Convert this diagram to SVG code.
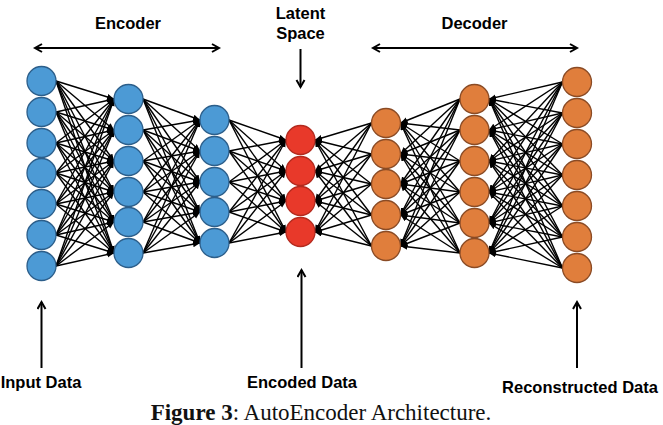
<svg xmlns="http://www.w3.org/2000/svg" width="663" height="425" viewBox="0 0 663 425">
<style>
.lbl{font-family:"Liberation Sans",Arial,sans-serif;font-weight:bold;font-size:16.5px;fill:#000;text-anchor:middle}
.cap{font-family:"Liberation Serif","Times New Roman",serif;font-size:23px;fill:#111;text-anchor:middle}
.blue{fill:#4c9ad5;stroke:#2c5e8a;stroke-width:1.3}
.red{fill:#e8392a;stroke:#b32a1e;stroke-width:1.3}
.orange{fill:#e07e3c;stroke:#8a4b25;stroke-width:1.3}
.c line{stroke:#000;stroke-width:1.4;marker-end:url(#ah)}
.big{stroke:#000;stroke-width:2;fill:none}
</style>
<defs>
<marker id="ah" markerUnits="userSpaceOnUse" markerWidth="8" markerHeight="7" refX="7" refY="3" orient="auto"><path d="M0,0 L7,3 L0,6 z" fill="#000"/></marker>
<marker id="ch" markerUnits="userSpaceOnUse" markerWidth="12" markerHeight="12" refX="8" refY="5" orient="auto-start-reverse"><path d="M1,1 L8,5 L1,9" fill="none" stroke="#000" stroke-width="2"/></marker>
</defs>
<rect width="663" height="425" fill="#fff"/>

<g id="connectors" class="c">
<!-- E1 -> E2 -->
<line x1="56" y1="81" x2="114" y2="99"/><line x1="56" y1="81" x2="114" y2="130"/><line x1="56" y1="81" x2="114" y2="161"/><line x1="56" y1="81" x2="114" y2="192"/><line x1="56" y1="81" x2="114" y2="222"/><line x1="56" y1="81" x2="114" y2="253"/>
<line x1="56" y1="112" x2="114" y2="99"/><line x1="56" y1="112" x2="114" y2="130"/><line x1="56" y1="112" x2="114" y2="161"/><line x1="56" y1="112" x2="114" y2="192"/><line x1="56" y1="112" x2="114" y2="222"/><line x1="56" y1="112" x2="114" y2="253"/>
<line x1="56" y1="143" x2="114" y2="99"/><line x1="56" y1="143" x2="114" y2="130"/><line x1="56" y1="143" x2="114" y2="161"/><line x1="56" y1="143" x2="114" y2="192"/><line x1="56" y1="143" x2="114" y2="222"/><line x1="56" y1="143" x2="114" y2="253"/>
<line x1="56" y1="173" x2="114" y2="99"/><line x1="56" y1="173" x2="114" y2="130"/><line x1="56" y1="173" x2="114" y2="161"/><line x1="56" y1="173" x2="114" y2="192"/><line x1="56" y1="173" x2="114" y2="222"/><line x1="56" y1="173" x2="114" y2="253"/>
<line x1="56" y1="204" x2="114" y2="99"/><line x1="56" y1="204" x2="114" y2="130"/><line x1="56" y1="204" x2="114" y2="161"/><line x1="56" y1="204" x2="114" y2="192"/><line x1="56" y1="204" x2="114" y2="222"/><line x1="56" y1="204" x2="114" y2="253"/>
<line x1="56" y1="235" x2="114" y2="99"/><line x1="56" y1="235" x2="114" y2="130"/><line x1="56" y1="235" x2="114" y2="161"/><line x1="56" y1="235" x2="114" y2="192"/><line x1="56" y1="235" x2="114" y2="222"/><line x1="56" y1="235" x2="114" y2="253"/>
<line x1="56" y1="266" x2="114" y2="99"/><line x1="56" y1="266" x2="114" y2="130"/><line x1="56" y1="266" x2="114" y2="161"/><line x1="56" y1="266" x2="114" y2="192"/><line x1="56" y1="266" x2="114" y2="222"/><line x1="56" y1="266" x2="114" y2="253"/>
<!-- E2 -> E3 -->
<line x1="143" y1="99" x2="200" y2="120"/><line x1="143" y1="99" x2="200" y2="151"/><line x1="143" y1="99" x2="200" y2="182"/><line x1="143" y1="99" x2="200" y2="212"/><line x1="143" y1="99" x2="200" y2="243"/>
<line x1="143" y1="130" x2="200" y2="120"/><line x1="143" y1="130" x2="200" y2="151"/><line x1="143" y1="130" x2="200" y2="182"/><line x1="143" y1="130" x2="200" y2="212"/><line x1="143" y1="130" x2="200" y2="243"/>
<line x1="143" y1="161" x2="200" y2="120"/><line x1="143" y1="161" x2="200" y2="151"/><line x1="143" y1="161" x2="200" y2="182"/><line x1="143" y1="161" x2="200" y2="212"/><line x1="143" y1="161" x2="200" y2="243"/>
<line x1="143" y1="192" x2="200" y2="120"/><line x1="143" y1="192" x2="200" y2="151"/><line x1="143" y1="192" x2="200" y2="182"/><line x1="143" y1="192" x2="200" y2="212"/><line x1="143" y1="192" x2="200" y2="243"/>
<line x1="143" y1="222" x2="200" y2="120"/><line x1="143" y1="222" x2="200" y2="151"/><line x1="143" y1="222" x2="200" y2="182"/><line x1="143" y1="222" x2="200" y2="212"/><line x1="143" y1="222" x2="200" y2="243"/>
<line x1="143" y1="253" x2="200" y2="120"/><line x1="143" y1="253" x2="200" y2="151"/><line x1="143" y1="253" x2="200" y2="182"/><line x1="143" y1="253" x2="200" y2="212"/><line x1="143" y1="253" x2="200" y2="243"/>
<!-- E3 -> Latent -->
<line x1="229" y1="120" x2="286" y2="140"/><line x1="229" y1="120" x2="286" y2="171"/><line x1="229" y1="120" x2="286" y2="201"/><line x1="229" y1="120" x2="286" y2="232"/>
<line x1="229" y1="151" x2="286" y2="140"/><line x1="229" y1="151" x2="286" y2="171"/><line x1="229" y1="151" x2="286" y2="201"/><line x1="229" y1="151" x2="286" y2="232"/>
<line x1="229" y1="182" x2="286" y2="140"/><line x1="229" y1="182" x2="286" y2="171"/><line x1="229" y1="182" x2="286" y2="201"/><line x1="229" y1="182" x2="286" y2="232"/>
<line x1="229" y1="212" x2="286" y2="140"/><line x1="229" y1="212" x2="286" y2="171"/><line x1="229" y1="212" x2="286" y2="201"/><line x1="229" y1="212" x2="286" y2="232"/>
<line x1="229" y1="243" x2="286" y2="140"/><line x1="229" y1="243" x2="286" y2="171"/><line x1="229" y1="243" x2="286" y2="201"/><line x1="229" y1="243" x2="286" y2="232"/>
<!-- D1 -> Latent -->
<line x1="371.5" y1="123" x2="315" y2="140"/><line x1="371.5" y1="123" x2="315" y2="171"/><line x1="371.5" y1="123" x2="315" y2="201"/><line x1="371.5" y1="123" x2="315" y2="232"/>
<line x1="371.5" y1="154" x2="315" y2="140"/><line x1="371.5" y1="154" x2="315" y2="171"/><line x1="371.5" y1="154" x2="315" y2="201"/><line x1="371.5" y1="154" x2="315" y2="232"/>
<line x1="371.5" y1="184" x2="315" y2="140"/><line x1="371.5" y1="184" x2="315" y2="171"/><line x1="371.5" y1="184" x2="315" y2="201"/><line x1="371.5" y1="184" x2="315" y2="232"/>
<line x1="371.5" y1="215" x2="315" y2="140"/><line x1="371.5" y1="215" x2="315" y2="171"/><line x1="371.5" y1="215" x2="315" y2="201"/><line x1="371.5" y1="215" x2="315" y2="232"/>
<line x1="371.5" y1="246" x2="315" y2="140"/><line x1="371.5" y1="246" x2="315" y2="171"/><line x1="371.5" y1="246" x2="315" y2="201"/><line x1="371.5" y1="246" x2="315" y2="232"/>
<!-- D2 -> D1 -->
<line x1="460" y1="99" x2="400.5" y2="123"/><line x1="460" y1="99" x2="400.5" y2="154"/><line x1="460" y1="99" x2="400.5" y2="184"/><line x1="460" y1="99" x2="400.5" y2="215"/><line x1="460" y1="99" x2="400.5" y2="246"/>
<line x1="460" y1="130" x2="400.5" y2="123"/><line x1="460" y1="130" x2="400.5" y2="154"/><line x1="460" y1="130" x2="400.5" y2="184"/><line x1="460" y1="130" x2="400.5" y2="215"/><line x1="460" y1="130" x2="400.5" y2="246"/>
<line x1="460" y1="161" x2="400.5" y2="123"/><line x1="460" y1="161" x2="400.5" y2="154"/><line x1="460" y1="161" x2="400.5" y2="184"/><line x1="460" y1="161" x2="400.5" y2="215"/><line x1="460" y1="161" x2="400.5" y2="246"/>
<line x1="460" y1="192" x2="400.5" y2="123"/><line x1="460" y1="192" x2="400.5" y2="154"/><line x1="460" y1="192" x2="400.5" y2="184"/><line x1="460" y1="192" x2="400.5" y2="215"/><line x1="460" y1="192" x2="400.5" y2="246"/>
<line x1="460" y1="223" x2="400.5" y2="123"/><line x1="460" y1="223" x2="400.5" y2="154"/><line x1="460" y1="223" x2="400.5" y2="184"/><line x1="460" y1="223" x2="400.5" y2="215"/><line x1="460" y1="223" x2="400.5" y2="246"/>
<line x1="460" y1="253" x2="400.5" y2="123"/><line x1="460" y1="253" x2="400.5" y2="154"/><line x1="460" y1="253" x2="400.5" y2="184"/><line x1="460" y1="253" x2="400.5" y2="215"/><line x1="460" y1="253" x2="400.5" y2="246"/>
<!-- D3 -> D2 -->
<line x1="562.5" y1="82" x2="489" y2="99"/><line x1="562.5" y1="82" x2="489" y2="130"/><line x1="562.5" y1="82" x2="489" y2="161"/><line x1="562.5" y1="82" x2="489" y2="192"/><line x1="562.5" y1="82" x2="489" y2="223"/><line x1="562.5" y1="82" x2="489" y2="253"/>
<line x1="562.5" y1="113" x2="489" y2="99"/><line x1="562.5" y1="113" x2="489" y2="130"/><line x1="562.5" y1="113" x2="489" y2="161"/><line x1="562.5" y1="113" x2="489" y2="192"/><line x1="562.5" y1="113" x2="489" y2="223"/><line x1="562.5" y1="113" x2="489" y2="253"/>
<line x1="562.5" y1="144" x2="489" y2="99"/><line x1="562.5" y1="144" x2="489" y2="130"/><line x1="562.5" y1="144" x2="489" y2="161"/><line x1="562.5" y1="144" x2="489" y2="192"/><line x1="562.5" y1="144" x2="489" y2="223"/><line x1="562.5" y1="144" x2="489" y2="253"/>
<line x1="562.5" y1="175" x2="489" y2="99"/><line x1="562.5" y1="175" x2="489" y2="130"/><line x1="562.5" y1="175" x2="489" y2="161"/><line x1="562.5" y1="175" x2="489" y2="192"/><line x1="562.5" y1="175" x2="489" y2="223"/><line x1="562.5" y1="175" x2="489" y2="253"/>
<line x1="562.5" y1="206" x2="489" y2="99"/><line x1="562.5" y1="206" x2="489" y2="130"/><line x1="562.5" y1="206" x2="489" y2="161"/><line x1="562.5" y1="206" x2="489" y2="192"/><line x1="562.5" y1="206" x2="489" y2="223"/><line x1="562.5" y1="206" x2="489" y2="253"/>
<line x1="562.5" y1="237" x2="489" y2="99"/><line x1="562.5" y1="237" x2="489" y2="130"/><line x1="562.5" y1="237" x2="489" y2="161"/><line x1="562.5" y1="237" x2="489" y2="192"/><line x1="562.5" y1="237" x2="489" y2="223"/><line x1="562.5" y1="237" x2="489" y2="253"/>
<line x1="562.5" y1="268" x2="489" y2="99"/><line x1="562.5" y1="268" x2="489" y2="130"/><line x1="562.5" y1="268" x2="489" y2="161"/><line x1="562.5" y1="268" x2="489" y2="192"/><line x1="562.5" y1="268" x2="489" y2="223"/><line x1="562.5" y1="268" x2="489" y2="253"/>
</g>

<g id="input-layer">
<circle class="blue" cx="41.5" cy="81" r="14.5"/><circle class="blue" cx="41.5" cy="112" r="14.5"/><circle class="blue" cx="41.5" cy="143" r="14.5"/><circle class="blue" cx="41.5" cy="173" r="14.5"/><circle class="blue" cx="41.5" cy="204" r="14.5"/><circle class="blue" cx="41.5" cy="235" r="14.5"/><circle class="blue" cx="41.5" cy="266" r="14.5"/>
</g>
<g id="encoder-hidden-1">
<circle class="blue" cx="128.5" cy="99" r="14.5"/><circle class="blue" cx="128.5" cy="130" r="14.5"/><circle class="blue" cx="128.5" cy="161" r="14.5"/><circle class="blue" cx="128.5" cy="192" r="14.5"/><circle class="blue" cx="128.5" cy="222" r="14.5"/><circle class="blue" cx="128.5" cy="253" r="14.5"/>
</g>
<g id="encoder-hidden-2">
<circle class="blue" cx="214.5" cy="120" r="14.5"/><circle class="blue" cx="214.5" cy="151" r="14.5"/><circle class="blue" cx="214.5" cy="182" r="14.5"/><circle class="blue" cx="214.5" cy="212" r="14.5"/><circle class="blue" cx="214.5" cy="243" r="14.5"/>
</g>
<g id="latent-layer">
<circle class="red" cx="300.5" cy="140" r="14.5"/><circle class="red" cx="300.5" cy="171" r="14.5"/><circle class="red" cx="300.5" cy="201" r="14.5"/><circle class="red" cx="300.5" cy="232" r="14.5"/>
</g>
<g id="decoder-hidden-1">
<circle class="orange" cx="386" cy="123" r="14.5"/><circle class="orange" cx="386" cy="154" r="14.5"/><circle class="orange" cx="386" cy="184" r="14.5"/><circle class="orange" cx="386" cy="215" r="14.5"/><circle class="orange" cx="386" cy="246" r="14.5"/>
</g>
<g id="decoder-hidden-2">
<circle class="orange" cx="474.5" cy="99" r="14.5"/><circle class="orange" cx="474.5" cy="130" r="14.5"/><circle class="orange" cx="474.5" cy="161" r="14.5"/><circle class="orange" cx="474.5" cy="192" r="14.5"/><circle class="orange" cx="474.5" cy="223" r="14.5"/><circle class="orange" cx="474.5" cy="253" r="14.5"/>
</g>
<g id="output-layer">
<circle class="orange" cx="577" cy="82" r="14.5"/><circle class="orange" cx="577" cy="113" r="14.5"/><circle class="orange" cx="577" cy="144" r="14.5"/><circle class="orange" cx="577" cy="175" r="14.5"/><circle class="orange" cx="577" cy="206" r="14.5"/><circle class="orange" cx="577" cy="237" r="14.5"/><circle class="orange" cx="577" cy="268" r="14.5"/>
</g>

<g id="annotations">
<line class="big" x1="35" y1="48" x2="219" y2="48" marker-start="url(#ch)" marker-end="url(#ch)"/>
<line class="big" x1="373" y1="48" x2="577" y2="48" marker-start="url(#ch)" marker-end="url(#ch)"/>
<line class="big" x1="300.5" y1="49" x2="300.5" y2="87" marker-end="url(#ch)"/>
<line class="big" x1="41.5" y1="368" x2="41.5" y2="302" marker-end="url(#ch)"/>
<line class="big" x1="301.5" y1="368" x2="301.5" y2="270" marker-end="url(#ch)"/>
<line class="big" x1="577" y1="368" x2="577" y2="302" marker-end="url(#ch)"/>
</g>

<g id="labels">
<text class="lbl" x="128" y="29">Encoder</text>
<text class="lbl" x="300.5" y="19">Latent</text>
<text class="lbl" x="300.5" y="39">Space</text>
<text class="lbl" x="474.5" y="29">Decoder</text>
<text class="lbl" x="41" y="388">Input Data</text>
<text class="lbl" x="302" y="388">Encoded Data</text>
<text class="lbl" x="580" y="393">Reconstructed Data</text>
<text class="cap" x="321" y="420"><tspan font-weight="bold">Figure 3</tspan>: AutoEncoder Architecture.</text>
</g>
</svg>
